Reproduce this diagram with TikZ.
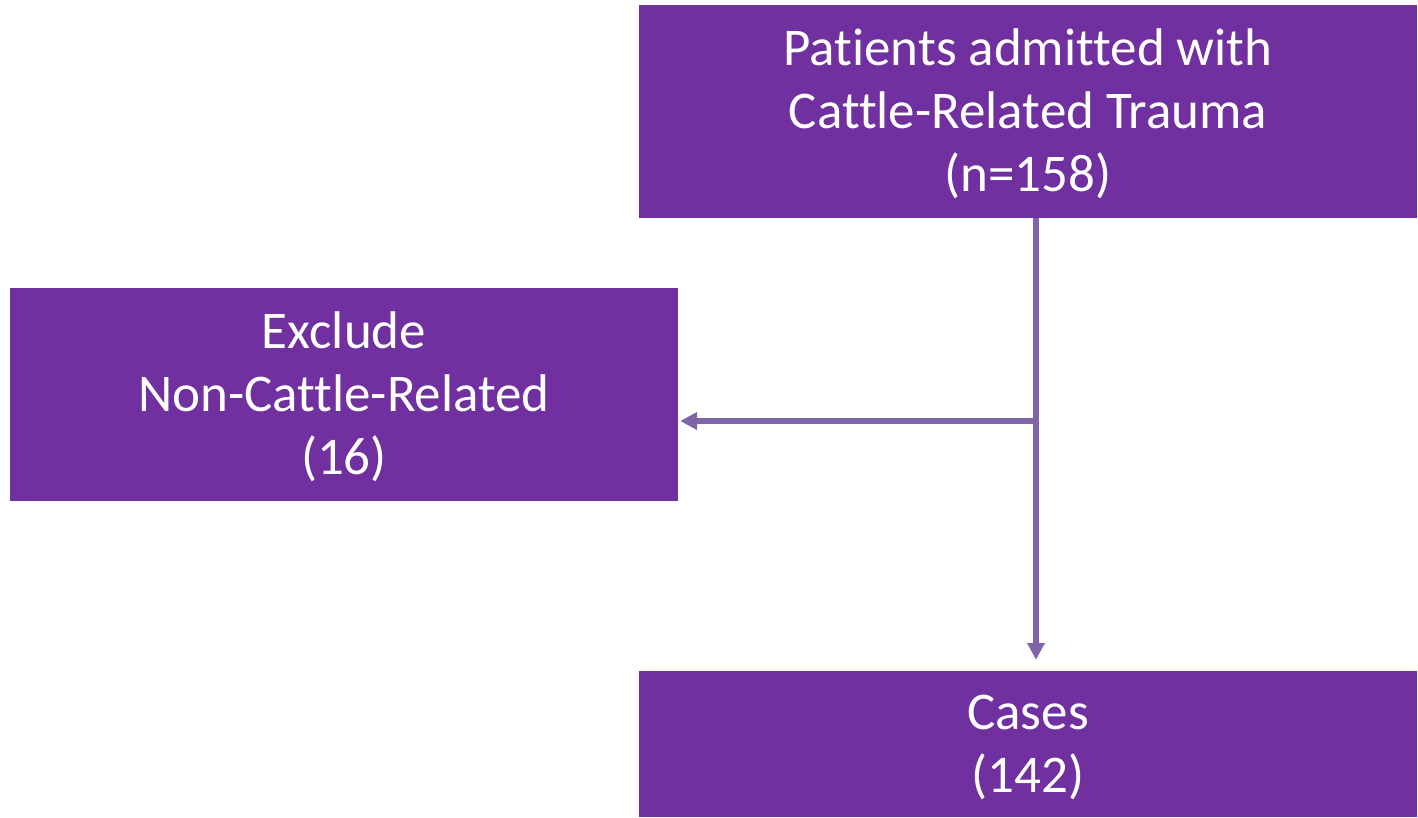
\documentclass[tikz,border=0pt]{standalone}
\usepackage{fontspec}
\setmainfont[Ligatures={NoCommon}]{Carlito}
\usetikzlibrary{positioning,arrows.meta}
\definecolor{boxpurple}{HTML}{7030A0}
\definecolor{linepurple}{HTML}{8064A8}
\newcommand{\rowstrut}{\rule[-15pt]{0pt}{63pt}}

\tikzset{
stepbox/.style={
  rectangle,
  fill=boxpurple,
  draw=none,
  text=white,
  align=center,
  inner sep=0pt,
  font=\fontsize{53}{63}\selectfont,
},
flow/.style={
  draw=linepurple,
  line width=5.5pt,
  -{Triangle[length=17pt,width=17pt]},
},
}

\begin{document}
\begin{tikzpicture}[x=1pt, y=-1pt]
\useasboundingbox (0,0) rectangle (1418,817);
%boxes
\node[stepbox, minimum width=778pt, minimum height=213pt](admitted) at (1028,111.5) {\rowstrut Patients admitted with\\\rowstrut Cattle-Related Trauma\\\rowstrut (n=158)};
\node[stepbox, minimum width=668pt, minimum height=213pt](excluded) at (344,394.5) {\rowstrut Exclude\\\rowstrut Non-Cattle-Related\\\rowstrut (16)};
\node[stepbox, minimum width=778pt, minimum height=146pt](cases) at (1028,744) {\rowstrut Cases\\\rowstrut (142)};
\coordinate (split) at (1036,421);

%connectors
\draw[flow, shorten >=11pt](admitted.south -| split) -- (split |- cases.north);
\draw[flow, shorten >=2pt](split) -- (split -| excluded.east);

\end{tikzpicture}
\end{document}
